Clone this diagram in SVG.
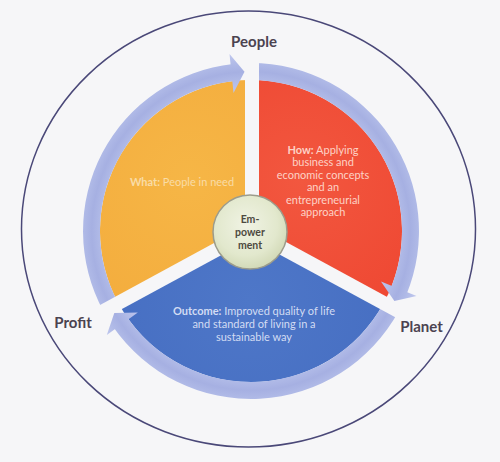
<svg xmlns="http://www.w3.org/2000/svg" width="500" height="462" viewBox="0 0 500 462">
<defs>
<radialGradient id="ringGrad" gradientUnits="userSpaceOnUse" cx="251" cy="231" r="177">
<stop offset="0.79" stop-color="#bcc4ec"/>
<stop offset="0.853" stop-color="#b0bae7"/>
<stop offset="0.9" stop-color="#a6b0e2"/>
<stop offset="0.949" stop-color="#b0bae7"/>
<stop offset="1" stop-color="#bec6ed"/>
</radialGradient>
<radialGradient id="hubGrad" cx="0.45" cy="0.4" r="0.6">
<stop offset="0" stop-color="#f0f3e4"/>
<stop offset="0.7" stop-color="#e2e8cd"/>
<stop offset="1" stop-color="#d3dab8"/>
</radialGradient>
<radialGradient id="redGrad" gradientUnits="userSpaceOnUse" cx="300" cy="180" r="180">
<stop offset="0" stop-color="#f2573f"/>
<stop offset="1" stop-color="#ee4530"/>
</radialGradient>
<radialGradient id="yelGrad" gradientUnits="userSpaceOnUse" cx="190" cy="180" r="180">
<stop offset="0" stop-color="#f6b646"/>
<stop offset="1" stop-color="#f3ab3c"/>
</radialGradient>
<radialGradient id="bluGrad" gradientUnits="userSpaceOnUse" cx="250" cy="300" r="160">
<stop offset="0" stop-color="#4e77c8"/>
<stop offset="1" stop-color="#466ec2"/>
</radialGradient>
</defs>
<style>
.bg{fill:#f6f6f8}
.gap{stroke:#f6f6f8;stroke-width:14;stroke-linecap:butt;fill:none}
.arrow{fill:url(#ringGrad)}
.lbl{font-family:Lato,"Liberation Sans",sans-serif;font-weight:bold;font-size:15px;fill:#4b4350;text-anchor:middle}
.txt{font-family:Lato,"Liberation Sans",sans-serif;font-size:11px;text-anchor:middle}
.b{font-weight:bold}
.hub{font-family:Lato,"Liberation Sans",sans-serif;font-weight:bold;font-size:10.5px;fill:#4d4a40;text-anchor:middle}
</style>
<rect class="bg" x="0" y="0" width="500" height="462"/>
<ellipse id="outer" cx="248.5" cy="229" rx="227" ry="218" fill="none" stroke="#4a4878" stroke-width="1.5"/>

<g id="what">
<path d="M251,231 L118.3,303.1 A151,151 0 0 1 251,80 Z" fill="url(#yelGrad)"/>
</g>
<g id="how">
<path d="M251,231 L251,80 A151,151 0 0 1 383.7,303.1 Z" fill="url(#redGrad)"/>
</g>
<g id="outcome">
<path d="M251,231 L383.7,303.1 A151,151 0 0 1 118.3,303.1 Z" fill="url(#bluGrad)"/>
</g>

<g id="connectors">
<path class="arrow" d="M251,63 A168,168 0 0 1 406.4,294.8 L390.7,288.3 A151,151 0 0 0 251,80 Z"/>
<path class="arrow" d="M398.6,311.2 A168,168 0 0 1 112.9,326.6 L126.9,317 A151,151 0 0 0 383.7,303.1 Z"/>
<path class="arrow" d="M103.4,311.2 A168,168 0 0 1 232.9,64 L234.7,80.9 A151,151 0 0 0 118.3,303.1 Z"/>
<line class="gap" x1="252" y1="231" x2="252" y2="50"/>
<line class="gap" x1="251" y1="231" x2="409.2" y2="316.9"/>
<line class="gap" x1="251" y1="231" x2="92.8" y2="316.9"/>
<polygon class="arrow" points="416.5,296 394.4,300.9 381,281.5"/>
<polygon class="arrow" points="106.8,335 114.3,313.1 137.8,312.5"/>
<polygon class="arrow" points="229.5,54 244.5,71.7 233.5,93"/>
</g>

<g id="hub">
<circle cx="250" cy="232" r="37" fill="url(#hubGrad)" stroke="#9c9c8c" stroke-width="1.5"/>
<text class="hub" x="250" y="223">Em-</text>
<text class="hub" x="250" y="236">power</text>
<text class="hub" x="250" y="248.5">ment</text>
</g>

<g id="what-text">
<text class="txt" x="182" y="185.5" fill="#f9dca6"><tspan class="b">What:</tspan> People in need</text>
</g>
<g id="how-text" fill="#fdd2c6">
<text class="txt" x="323" y="153.5"><tspan class="b">How:</tspan> Applying</text>
<text class="txt" x="323" y="166">business and</text>
<text class="txt" x="323" y="178.5">economic concepts</text>
<text class="txt" x="323" y="191">and an</text>
<text class="txt" x="323" y="203.5">entrepreneurial</text>
<text class="txt" x="323" y="216">approach</text>
</g>
<g id="outcome-text" fill="#d3dcf3">
<text class="txt" x="254" y="314.5"><tspan class="b">Outcome:</tspan> Improved quality of life</text>
<text class="txt" x="254" y="327.5">and standard of living in a</text>
<text class="txt" x="254" y="340.5">sustainable way</text>
</g>

<g id="people"><text class="lbl" x="254" y="47">People</text></g>
<g id="planet"><text class="lbl" x="421.5" y="332">Planet</text></g>
<g id="profit"><text class="lbl" x="73" y="328">Profit</text></g>
</svg>
